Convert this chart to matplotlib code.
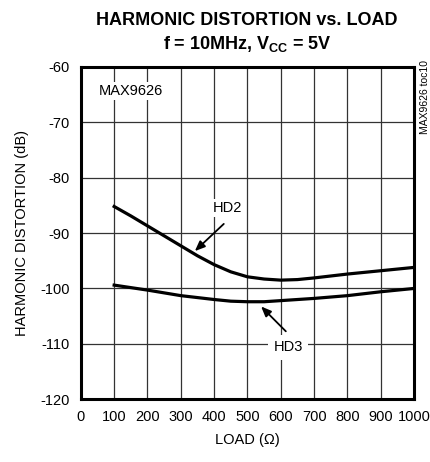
import numpy as np
import matplotlib.pyplot as plt

plt.rcParams['font.family'] = ['Liberation Sans', 'DejaVu Sans']
plt.rcParams['axes.unicode_minus'] = False

# valeurs
load_hd2 = [100, 150, 200, 250, 300, 350, 400, 450, 500, 550, 600, 650, 700, 800, 900, 1000]
hd2 = [-85.2, -86.9, -88.7, -90.5, -92.3, -94.1, -95.7, -97.0, -97.9, -98.3, -98.5, -98.4,
       -98.1, -97.4, -96.8, -96.2]
load_hd3 = [100, 200, 300, 400, 450, 500, 550, 600, 700, 800, 900, 1000]
hd3 = [-99.4, -100.3, -101.3, -102.0, -102.3, -102.4, -102.4, -102.2, -101.8, -101.3,
       -100.6, -100.0]

xticks = [0, 100, 200, 300, 400, 500, 600, 700, 800, 900, 1000]
yticks = [-60, -70, -80, -90, -100, -110, -120]

fig = plt.figure(figsize=(4.3, 4.62), dpi=100)
ax = fig.add_axes([0.188, 0.136, 0.775, 0.719])

ax.plot(load_hd2, hd2, color='black', lw=2.3, zorder=3)
ax.plot(load_hd3, hd3, color='black', lw=2.3, zorder=3)

ax.set_xlim(0, 1000)
ax.set_ylim(-120, -60)
ax.set_xticks(xticks)
ax.set_yticks(yticks)
ax.tick_params(length=0, labelsize=10.5, pad=8)
ax.grid(True, color='#333333', lw=0.9)
ax.set_axisbelow(True)
for s in ax.spines.values():
    s.set_linewidth(2.2)

ax.set_xlabel('LOAD (Ω)', fontsize=10.5, labelpad=6)
ax.set_ylabel('HARMONIC DISTORTION (dB)', fontsize=10.5, labelpad=8)

fig.text(0.575, 0.955, 'HARMONIC DISTORTION vs. LOAD', ha='center', va='center',
         fontsize=13, fontweight='bold')
fig.text(0.575, 0.905, r'f = 10MHz, V$_{\mathregular{CC}}$ = 5V', ha='center', va='center',
         fontsize=13, fontweight='bold')

box = dict(facecolor='white', edgecolor='none', pad=1.5)
ax.text(55, -64.3, 'MAX9626', ha='left', va='center', fontsize=10.5, bbox=box, zorder=4)
ax.text(441, -85.5, 'HD2', ha='center', va='center', fontsize=10.5, bbox=box, zorder=4)
ax.text(622, -110.6, 'HD3', ha='center', va='center', fontsize=10.5,
        bbox=dict(facecolor='white', edgecolor='none', pad=4), zorder=4)

arrow = dict(arrowstyle='-|>,head_length=0.6,head_width=0.25', color='black', lw=1.3)
ax.annotate('', xy=(336, -93.6), xytext=(435, -88.0), arrowprops=arrow, zorder=5)
ax.annotate('', xy=(535, -102.9), xytext=(621, -108.1), arrowprops=arrow, zorder=5)

fig.text(0.988, 0.79, 'MAX9626 toc10', rotation=90, ha='center', va='center', fontsize=7.5)

fig.savefig('out.png', dpi=100)
